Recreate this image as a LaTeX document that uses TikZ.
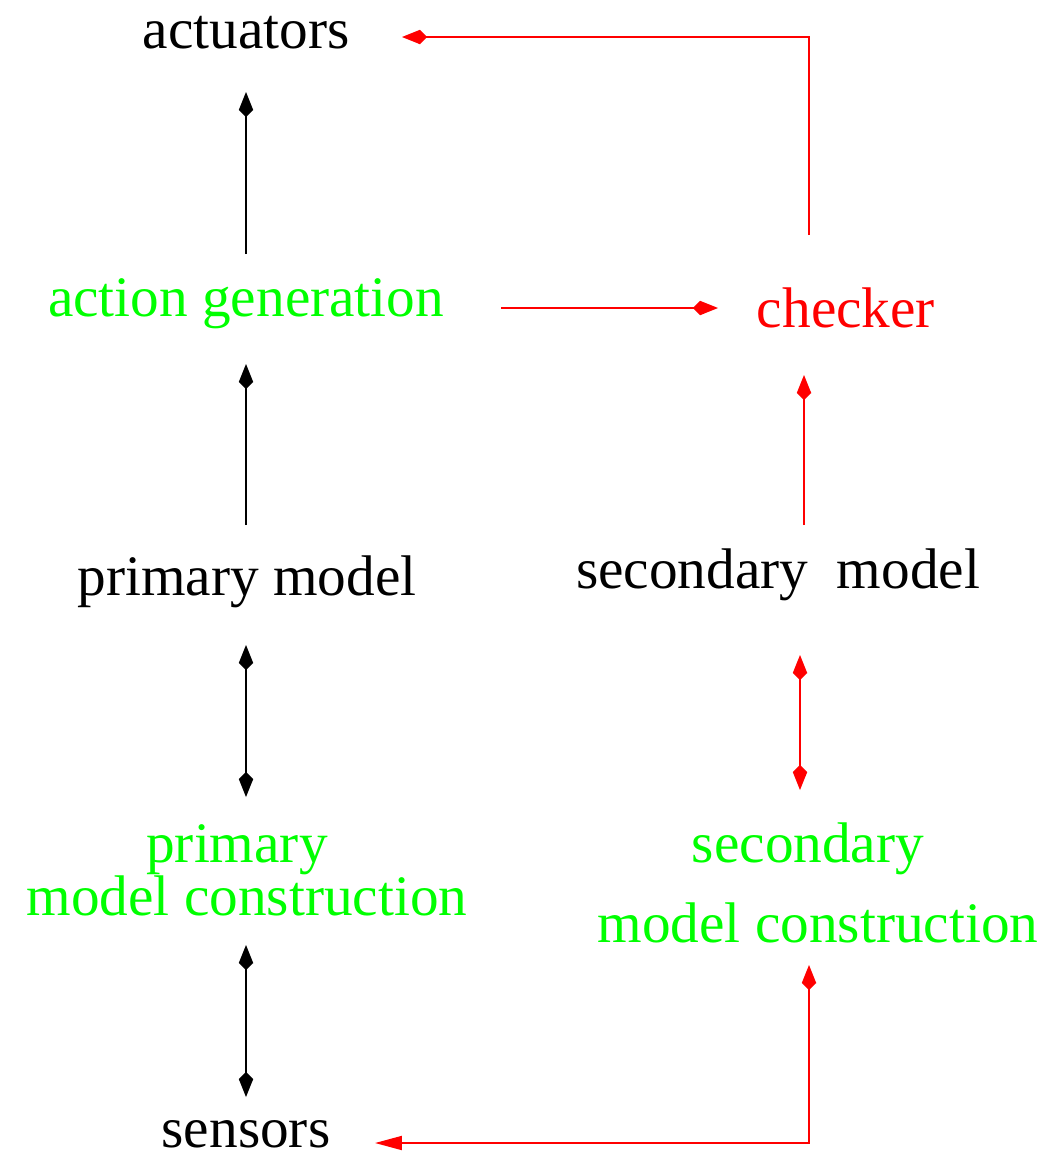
\documentclass[tikz,border=0pt]{standalone}
\usepackage{fontspec}
\setmainfont{Liberation Serif}
\usepackage{tikz}
\usetikzlibrary{positioning,arrows.meta,calc}
\tikzset{
  flowarrow/.style={-{Kite[length=5mm, width=2.9mm, inset=1.4mm]}, line width=1.1pt},
  botharrow/.style={{Kite[length=5mm, width=2.9mm, inset=1.4mm]}-{Kite[length=5mm, width=2.9mm, inset=1.4mm]}, line width=1.1pt},
  plainlabel/.style={anchor=base, inner sep=0pt, text=black},
  steplabel/.style={anchor=base, inner sep=0pt, text=green},
  checklabel/.style={anchor=base, inner sep=0pt, text=red}
}

\begin{document}
\begin{tikzpicture}[x=0.02cm, y=-0.02cm, every node/.style={font=\fontsize{32.6}{39}\selectfont}]
  \useasboundingbox (0,0) rectangle (1063,1157);
  % left column
  \node[plainlabel] (act) at (246,48) {actuators};
  \node[steplabel] (agen) at (246,316) {action generation};
  \node[plainlabel] (pm) at (247,595) {primary model};
  \node[steplabel] (pmc1) at (237,862) {primary};
  \node[steplabel] (pmc2) at (247,915) {model construction};
  \node[plainlabel] (sens) at (246,1147) {sensors};
  % right column
  \node[checklabel] (chk) at (846,327) {checker};
  \node[plainlabel] (sm) at (778,588) {secondary\ \ model};
  \node[steplabel] (smc1) at (808,862) {secondary};
  \node[steplabel] (smc2) at (818,942) {model construction};

  \draw[flowarrow] ($(agen.base)+(0,-62)$) -- ($(act.base)+(0,44)$);
  \draw[flowarrow] ($(pm.base)+(-1,-70)$) -- ($(agen.base)+(0,48)$);
  \draw[botharrow] ($(pm.base)+(-1,50)$) -- ($(pmc1.base)+(9,-65)$);
  \draw[botharrow] ($(pmc2.base)+(-1,30)$) -- ($(sens.base)+(0,-50)$);

  \draw[flowarrow, red] ($(agen.base)+(255,-8)$) -- ($(chk.base)+(-128,-19)$);
  \draw[flowarrow, red] ($(chk.base)+(-37,-92)$) |- ($(act.base)+(156,-11)$);
  \draw[flowarrow, red] ($(sm.base)+(26,-63)$) -- ($(chk.base)+(-42,48)$);
  \draw[botharrow, red] ($(sm.base)+(22,67)$) -- ($(smc1.base)+(-8,-72)$);
  \draw[{Kite[length=5mm, width=2.9mm, inset=1.4mm]}-{Triangle[length=5.4mm, width=2.8mm]}, line width=1.1pt, red]
    ($(smc2.base)+(-9,23)$) |- ($(sens.base)+(129,-4)$);
\end{tikzpicture}
\end{document}
